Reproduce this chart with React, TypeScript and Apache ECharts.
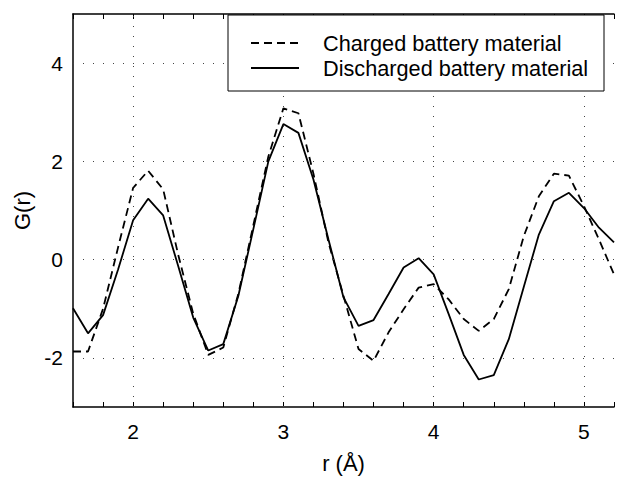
import React, { useEffect, useRef } from "react";
import * as echarts from "echarts";

const rValues = [
  1.6, 1.7, 1.8, 1.9, 2.0, 2.1, 2.2, 2.3, 2.4, 2.5, 2.6, 2.7, 2.8, 2.9, 3.0, 3.1, 3.2, 3.3, 3.4,
  3.5, 3.6, 3.7, 3.8, 3.9, 4.0, 4.1, 4.2, 4.3, 4.4, 4.5, 4.6, 4.7, 4.8, 4.9, 5.0, 5.1, 5.2,
];
const charged = [
  -1.87, -1.87, -1.0, 0.25, 1.46, 1.81, 1.43, 0.1, -1.1, -1.94, -1.79, -0.7, 0.7, 2.1, 3.08, 2.98,
  1.75, 0.35, -0.74, -1.82, -2.06, -1.48, -1.01, -0.57, -0.5, -0.81, -1.21, -1.45, -1.21, -0.6,
  0.48, 1.29, 1.75, 1.71, 1.09, 0.41, -0.3,
];
const discharged = [
  -0.99, -1.5, -1.13, -0.2, 0.8, 1.24, 0.9, -0.13, -1.18, -1.85, -1.72, -0.74, 0.62, 2.0, 2.76,
  2.58, 1.63, 0.41, -0.77, -1.35, -1.23, -0.7, -0.16, 0.03, -0.3, -1.11, -1.94, -2.44, -2.35,
  -1.62, -0.55, 0.51, 1.19, 1.36, 1.05, 0.65, 0.35,
];
const seriesNames = ["Charged battery material", "Discharged battery material"];
const gridX = [2, 3, 4, 5];
const gridY = [-2, 0, 2, 4];

const FONT = "'Liberation Sans', Arial, Helvetica, sans-serif";

export default function App() {
  const ref = useRef<HTMLDivElement>(null);
  useEffect(() => {
    if (!ref.current) return;
    const chart = echarts.init(ref.current, undefined, { renderer: "svg" });
    const intFmt = (v: number) =>
      Math.abs(v - Math.round(v)) < 1e-6 ? String(Math.round(v)) : "";
    const evenFmt = (v: number) => {
      const r = Math.round(v);
      return Math.abs(v - r) < 1e-6 && r % 2 === 0 ? String(r) : "";
    };
    const gridLine = { type: [1, 9] as any, color: "#444", width: 1 };
    const xCommon = {
      type: "value" as const,
      min: 1.6,
      max: 5.2,
      interval: 0.2,
      splitLine: { show: false },
      axisLine: { show: true, onZero: false, lineStyle: { color: "#000", width: 1.5 } },
      axisTick: { show: true, inside: true, length: 5, lineStyle: { color: "#000" } },
    };
    chart.setOption({
      animation: false,
      backgroundColor: "#fff",
      textStyle: { fontFamily: FONT },
      grid: { left: 73, top: 14, right: -1, bottom: 70, show: false },
      xAxis: [
        {
          ...xCommon,
          position: "bottom",
          name: "r (Å)",
          nameLocation: "middle",
          nameGap: 45,
          nameTextStyle: { fontSize: 22, color: "#000", fontFamily: FONT },
          axisLabel: { formatter: intFmt, fontSize: 21, color: "#000", margin: 14, fontFamily: FONT },
        },
        {
          ...xCommon,
          position: "top",
          axisLabel: { show: false },
        },
      ],
      yAxis: {
        type: "value",
        min: -3,
        max: 5,
        interval: 1,
        name: "G(r)",
        nameLocation: "middle",
        nameGap: 40,
        nameTextStyle: { fontSize: 22, color: "#000", fontFamily: FONT },
        splitLine: { show: false },
        axisLine: { show: true, onZero: false, lineStyle: { color: "#000", width: 1.5 } },
        axisTick: { show: false },
        axisLabel: { formatter: evenFmt, fontSize: 21, color: "#000", margin: 10, fontFamily: FONT },
      },
      legend: {
        orient: "vertical",
        left: 250,
        top: 32,
        padding: 0,
        itemWidth: 48,
        itemHeight: 14,
        itemGap: 3,
        z: 20,
        data: seriesNames,
        itemStyle: { opacity: 0, borderWidth: 0 },
        textStyle: {
          fontSize: 21.7,
          lineHeight: 22,
          color: "#000",
          fontFamily: FONT,
          padding: [0, 0, 0, 19],
        },
      },
      graphic: [
        {
          type: "rect",
          z: 15,
          shape: { x: 228, y: 15, width: 376, height: 76 },
          style: { fill: "#fff", stroke: "#000", lineWidth: 1 },
        },
      ],
      series: [
        {
          name: seriesNames[0],
          type: "line",
          symbol: "none",
          data: rValues.map((r, i) => [r, charged[i]]),
          lineStyle: { color: "#000", width: 1.8, type: [8, 5] },
          itemStyle: { color: "#000" },
          markLine: {
            silent: true,
            symbol: "none",
            label: { show: false },
            lineStyle: gridLine,
            data: [
              ...gridX.map((v) => ({ xAxis: v })),
              ...gridY.map((v) => ({ yAxis: v })),
            ],
          },
        },
        {
          name: seriesNames[1],
          type: "line",
          symbol: "none",
          data: rValues.map((r, i) => [r, discharged[i]]),
          lineStyle: { color: "#000", width: 1.8, type: "solid" },
          itemStyle: { color: "#000" },
        },
      ],
    });
    return () => chart.dispose();
  }, []);
  return (
    <div
      ref={ref}
      style={{ position: "fixed", left: 0, top: 0, width: 617, height: 479, background: "#fff" }}
    />
  );
}
